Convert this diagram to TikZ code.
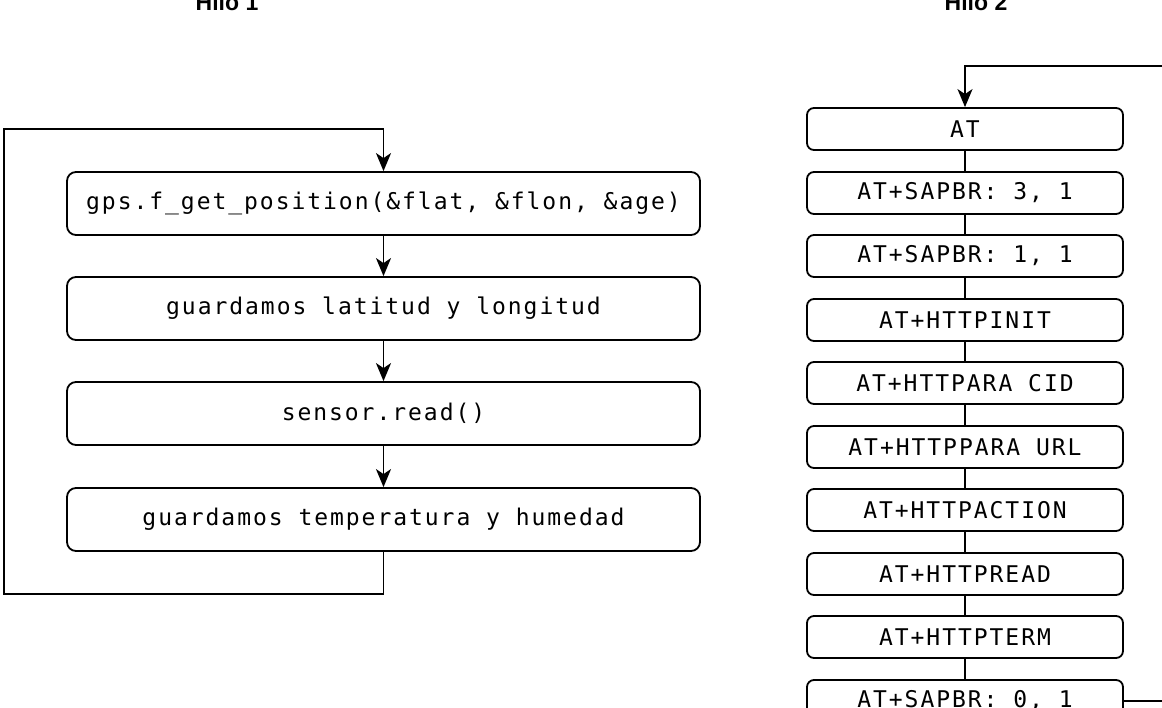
\documentclass[tikz,border=0pt]{standalone}
\usepackage{fontspec}
\setmainfont{Liberation Sans}
\setmonofont[LetterSpace=8.5]{DejaVu Sans Mono}
\usetikzlibrary{arrows.meta}
\begin{document}
\begin{tikzpicture}[x=1pt,y=-1pt,
  line width=1.8pt,
  lbox/.style={draw,rounded corners=9pt,minimum width=633pt,minimum height=63pt,inner sep=0pt,
    font=\fontsize{23}{26}\selectfont\ttfamily},
  rbox/.style={draw,rounded corners=7pt,minimum width=316pt,minimum height=42pt,inner sep=0pt,
    font=\fontsize{23}{26}\selectfont\ttfamily},
  title/.style={font=\fontsize{23}{25}\selectfont\bfseries,anchor=base,inner sep=0pt},
  arr/.style={-{Stealth[length=18pt,width=15pt,inset=5pt]}},
  conn/.style={}
]
\useasboundingbox (0,0) rectangle (1162,707);
% titles (cut at top)
\node[title] (t1) at (227,10) {Hilo 1};
\node[title] (t2) at (976,10) {Hilo 2};
% left column
\node[lbox] (g1) at (383.5,203.5) {gps.f\_get\_position(\&flat, \&flon, \&age)};
\node[lbox] (g2) at (383.5,308.5) {guardamos latitud y longitud};
\node[lbox] (g3) at (383.5,413.5) {sensor.read()};
\node[lbox] (g4) at (383.5,519.5) {guardamos temperatura y humedad};
\draw[arr] (g1) -- (g2);
\draw[arr] (g2) -- (g3);
\draw[arr] (g3) -- (g4);
\coordinate (lb) at (4,594);
\coordinate (lt) at (4,129);
\draw[arr] (g4.south) |- (lb) -- (lt) -| (g1.north);
% right column
\node[rbox] (r1) at (965,129) {AT};
\node[rbox] (r2) at (965,193) {AT+SAPBR: 3, 1};
\node[rbox] (r3) at (965,256) {AT+SAPBR: 1, 1};
\node[rbox] (r4) at (965,320) {AT+HTTPINIT};
\node[rbox] (r5) at (965,383) {AT+HTTPARA CID};
\node[rbox] (r6) at (965,447) {AT+HTTPPARA URL};
\node[rbox] (r7) at (965,510) {AT+HTTPACTION};
\node[rbox] (r8) at (965,574) {AT+HTTPREAD};
\node[rbox] (r9) at (965,637) {AT+HTTPTERM};
\node[rbox] (r10) at (965,701) {AT+SAPBR: 0, 1};
\foreach \a/\b in {r1/r2,r2/r3,r3/r4,r4/r5,r5/r6,r6/r7,r7/r8,r8/r9,r9/r10}
  \draw[conn] (\a) -- (\b);
\coordinate (rb) at (1200,701);
\coordinate (rt) at (1200,66);
\draw[arr] (r10.east) -- (rb) -- (rt) -| (r1.north);
\end{tikzpicture}
\end{document}
